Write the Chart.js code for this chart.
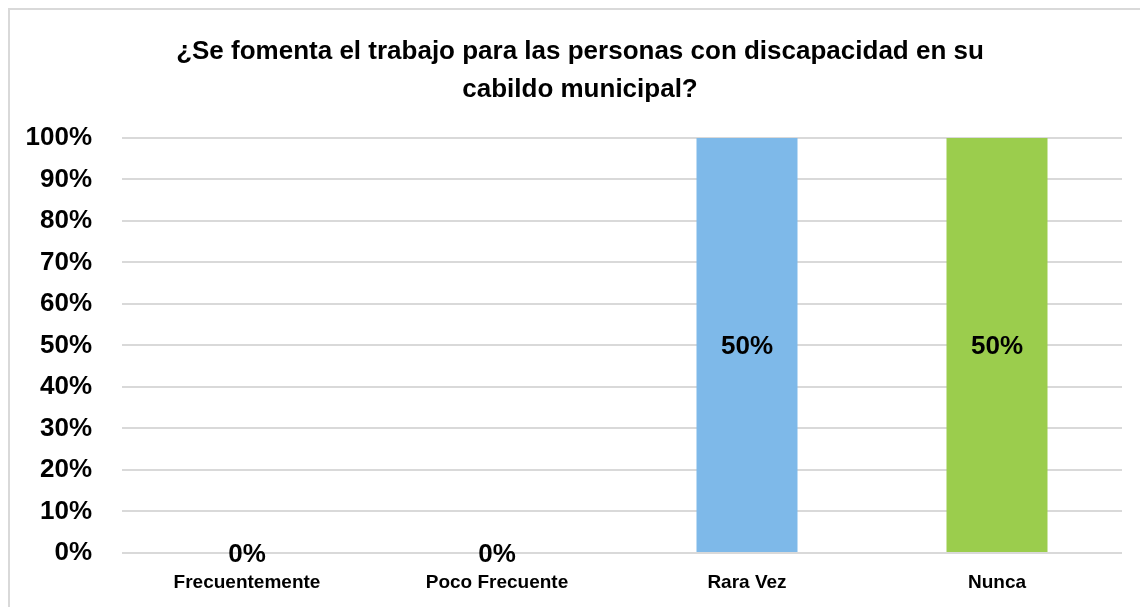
<!DOCTYPE html>
<html>
<head>
<meta charset="utf-8">
<script src="https://cdn.jsdelivr.net/npm/chart.js@4.4.1/dist/chart.umd.min.js"></script>
<style>
  html, body { margin: 0; padding: 0; background: #fff; }
  #frame { position: absolute; left: 8px; top: 8px; width: 1200px; height: 700px; border: 2px solid #d9d9d9; }
  #wrap { position: absolute; left: 0; top: 0; width: 1140px; height: 607px; }
</style>
</head>
<body>
<div id="frame"></div>
<div id="wrap"><canvas id="chart"></canvas></div>
<script>
const categories = ["Frecuentemente", "Poco Frecuente", "Rara Vez", "Nunca"];
const values = [0, 0, 50, 50];
const barColors = ["#4472C4", "#ED7D31", "#7EB9E9", "#9BCD4D"];
const tickLabels = ["0%", "10%", "20%", "30%", "40%", "50%", "60%", "70%", "80%", "90%", "100%"];

const FONT = "'Liberation Sans Narrow', 'Arial Narrow', 'Liberation Sans', Arial, sans-serif";

// writes the value in the middle of each bar
const barLabels = {
  id: "barLabels",
  afterDatasetsDraw(chart) {
    const ctx = chart.ctx;
    const meta = chart.getDatasetMeta(0);
    ctx.save();
    ctx.font = "bold 26px " + FONT;
    ctx.fillStyle = "#000";
    ctx.textAlign = "center";
    ctx.textBaseline = "middle";
    meta.data.forEach((bar, i) => {
      const y = (bar.y + bar.base) / 2;
      ctx.fillText(values[i] + "%", bar.x, y + 2);
    });
    ctx.restore();
  }
};

// nudge the title a bit to the right, like the original
const titleShift = {
  id: "titleShift",
  afterLayout(chart) {
    const t = chart.titleBlock;
    if (t) { t.left += 19; t.right += 19; }
  }
};

const ctx = document.getElementById("chart").getContext("2d");
new Chart(ctx, {
  type: "bar",
  data: {
    labels: categories,
    datasets: [{
      data: values,
      backgroundColor: barColors,
      barPercentage: 0.404,
      categoryPercentage: 1
    }]
  },
  options: {
    responsive: true,
    maintainAspectRatio: false,
    animation: false,
    layout: { padding: { left: 0, right: 18, top: 0, bottom: 0 } },
    plugins: {
      legend: { display: false },
      tooltip: { enabled: false },
      title: {
        display: true,
        text: ["¿Se fomenta el trabajo para las personas con discapacidad en su", "cabildo municipal?"],
        color: "#000",
        font: { family: FONT, size: 26, weight: "bold", lineHeight: 1.46 },
        padding: { top: 33, bottom: 29 }
      }
    },
    scales: {
      x: {
        afterFit(scale) { scale.height = 54; },
        grid: { display: false },
        border: { display: false },
        ticks: {
          color: "#000",
          font: { family: FONT, size: 19, weight: "bold" },
          padding: 10,
          maxRotation: 0
        }
      },
      y: {
        min: 0,
        max: 50,
        afterFit(scale) { scale.width = 122; },
        grid: { color: "#d9d9d9", lineWidth: 2, drawTicks: false },
        border: { display: false },
        ticks: {
          stepSize: 5,
          color: "#000",
          padding: 30,
          font: { family: FONT, size: 26, weight: "bold" },
          callback: (v, i) => tickLabels[i]
        }
      }
    }
  },
  plugins: [barLabels, titleShift]
});
</script>
</body>
</html>
